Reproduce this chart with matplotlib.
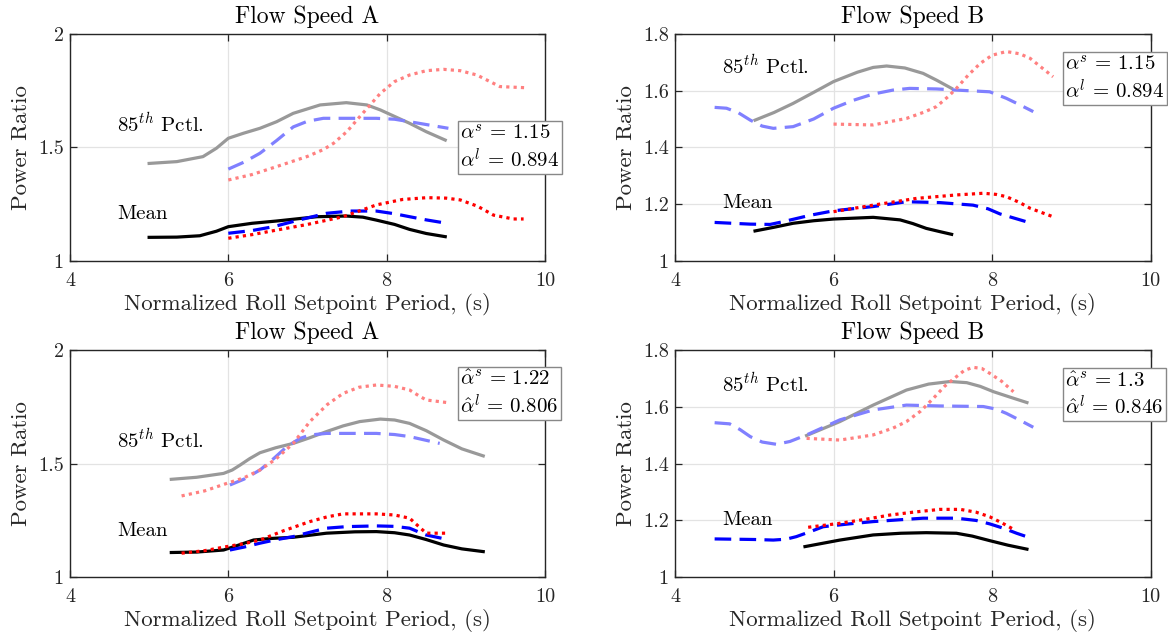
import matplotlib
matplotlib.use("Agg")
import matplotlib.pyplot as plt

plt.rcParams["font.family"] = "serif"
plt.rcParams["font.serif"] = ["cmr10"]
plt.rcParams["mathtext.fontset"] = "cm"
plt.rcParams["axes.formatter.use_mathtext"] = True

# ---- data ------------------------------------------------------------------
# top left: Flow Speed A (alpha)
tl_p85_base = ([5.0, 5.35, 5.68, 5.85, 6.0, 6.19, 6.4, 6.61, 6.82, 7.16, 7.49, 7.75, 7.92, 8.29, 8.5, 8.74],
               [1.429, 1.437, 1.459, 1.496, 1.54, 1.562, 1.584, 1.613, 1.650, 1.687, 1.697, 1.687, 1.665, 1.606, 1.569, 1.532])
tl_p85_dash = ([6.0, 6.2, 6.4, 6.61, 6.82, 7.0, 7.2, 7.87, 8.1, 8.29, 8.78],
               [1.404, 1.435, 1.474, 1.530, 1.59, 1.615, 1.628, 1.628, 1.624, 1.613, 1.584])
tl_p85_dot = ([6.0, 6.3, 6.61, 7.0, 7.2, 7.33, 7.5, 7.66, 7.92, 8.1, 8.29, 8.5, 8.72, 8.93, 9.14, 9.43, 9.75],
              [1.356, 1.380, 1.415, 1.46, 1.490, 1.518, 1.570, 1.635, 1.738, 1.790, 1.819, 1.838, 1.844, 1.838, 1.819, 1.768, 1.763])
tl_mean_base = ([5.0, 5.35, 5.64, 5.85, 6.0, 6.3, 6.61, 7.12, 7.49, 7.7, 7.87, 8.1, 8.29, 8.5, 8.74],
                [1.103, 1.104, 1.110, 1.13, 1.15, 1.165, 1.175, 1.194, 1.197, 1.192, 1.179, 1.160, 1.138, 1.120, 1.106])
tl_mean_dash = ([6.0, 6.3, 6.57, 6.9, 7.24, 7.54, 7.87, 8.1, 8.29, 8.5, 8.76],
                [1.121, 1.133, 1.150, 1.180, 1.209, 1.219, 1.219, 1.207, 1.194, 1.180, 1.165])
tl_mean_dot = ([6.0, 6.3, 6.61, 7.0, 7.45, 7.7, 7.87, 8.2, 8.51, 8.75, 8.93, 9.15, 9.35, 9.6, 9.73],
               [1.099, 1.115, 1.135, 1.160, 1.194, 1.225, 1.246, 1.270, 1.278, 1.276, 1.268, 1.240, 1.201, 1.184, 1.184])

# top right: Flow Speed B (alpha)
tr_p85_base = ([5.01, 5.25, 5.49, 5.75, 6.0, 6.3, 6.5, 6.67, 6.9, 7.13, 7.3, 7.49],
               [1.496, 1.523, 1.555, 1.594, 1.632, 1.665, 1.682, 1.687, 1.680, 1.661, 1.637, 1.608])
tr_p85_dash = ([4.5, 4.65, 4.8, 4.95, 5.1, 5.24, 5.49, 5.75, 6.0, 6.25, 6.5, 6.75, 6.96, 7.3, 7.55, 7.97, 8.18, 8.35, 8.52],
               [1.541, 1.538, 1.522, 1.496, 1.475, 1.467, 1.473, 1.500, 1.538, 1.566, 1.588, 1.602, 1.608, 1.606, 1.602, 1.596, 1.573, 1.550, 1.526])
tr_p85_dot = ([6.0, 6.5, 6.92, 7.15, 7.3, 7.45, 7.55, 7.7, 7.85, 8.0, 8.18, 8.35, 8.48, 8.77],
              [1.482, 1.479, 1.502, 1.525, 1.544, 1.580, 1.608, 1.655, 1.696, 1.725, 1.738, 1.730, 1.714, 1.649])
tr_mean_base = ([5.01, 5.25, 5.49, 5.75, 6.0, 6.5, 6.84, 7.0, 7.17, 7.35, 7.49],
                [1.105, 1.118, 1.132, 1.141, 1.147, 1.153, 1.144, 1.131, 1.114, 1.102, 1.093])
tr_mean_dash = ([4.5, 4.95, 5.2, 5.37, 5.7, 6.0, 6.5, 6.92, 7.34, 7.76, 7.95, 8.1, 8.5],
                [1.135, 1.129, 1.128, 1.138, 1.160, 1.176, 1.191, 1.208, 1.205, 1.196, 1.183, 1.165, 1.132])
tr_mean_dot = ([6.0, 6.5, 7.05, 7.55, 7.89, 8.05, 8.18, 8.35, 8.48, 8.77],
               [1.173, 1.196, 1.220, 1.232, 1.238, 1.234, 1.226, 1.205, 1.185, 1.155])

# bottom left: Flow Speed A (alpha hat)
bl_p85_base = ([5.28, 5.6, 5.94, 6.05, 6.15, 6.27, 6.4, 6.6, 6.82, 7.03, 7.24, 7.45, 7.66, 7.92, 8.1, 8.29, 8.5, 8.72, 8.95, 9.22],
               [1.431, 1.440, 1.457, 1.472, 1.494, 1.522, 1.548, 1.570, 1.589, 1.614, 1.641, 1.666, 1.685, 1.696, 1.692, 1.677, 1.645, 1.604, 1.565, 1.534])
bl_p85_dash = ([6.02, 6.2, 6.4, 6.55, 6.74, 6.9, 7.03, 7.24, 7.87, 8.1, 8.29, 8.67],
               [1.406, 1.432, 1.472, 1.515, 1.575, 1.610, 1.626, 1.633, 1.633, 1.628, 1.619, 1.589])
bl_p85_dot = ([5.41, 5.7, 5.98, 6.2, 6.4, 6.6, 6.82, 7.03, 7.25, 7.45, 7.65, 7.87, 8.1, 8.29, 8.4, 8.5, 8.78],
              [1.358, 1.380, 1.413, 1.438, 1.472, 1.520, 1.589, 1.685, 1.760, 1.809, 1.836, 1.846, 1.840, 1.824, 1.800, 1.780, 1.768])
bl_mean_base = ([5.28, 5.6, 5.94, 6.1, 6.32, 6.55, 6.82, 7.24, 7.6, 7.87, 8.1, 8.29, 8.5, 8.72, 8.95, 9.22],
                [1.109, 1.111, 1.120, 1.138, 1.164, 1.171, 1.176, 1.194, 1.200, 1.201, 1.196, 1.186, 1.166, 1.142, 1.125, 1.113])
bl_mean_dash = ([6.02, 6.2, 6.4, 6.6, 6.82, 7.03, 7.24, 7.5, 7.87, 8.1, 8.29, 8.4, 8.5, 8.76],
                [1.120, 1.133, 1.150, 1.165, 1.179, 1.198, 1.216, 1.223, 1.226, 1.224, 1.216, 1.200, 1.186, 1.167])
bl_mean_dot = ([5.41, 5.7, 5.98, 6.2, 6.4, 6.7, 7.03, 7.25, 7.45, 7.87, 8.1, 8.29, 8.4, 8.5, 8.78],
               [1.106, 1.117, 1.135, 1.148, 1.164, 1.205, 1.245, 1.266, 1.279, 1.279, 1.274, 1.260, 1.225, 1.194, 1.194])

# bottom right: Flow Speed B (alpha hat)
br_p85_base = ([5.66, 6.08, 6.5, 6.92, 7.2, 7.47, 7.68, 7.85, 8.02, 8.25, 8.44],
               [1.499, 1.548, 1.606, 1.659, 1.680, 1.689, 1.685, 1.672, 1.653, 1.632, 1.615])
br_p85_dash = ([4.5, 4.69, 4.82, 4.95, 5.1, 5.28, 5.45, 5.66, 5.85, 6.08, 6.5, 6.92, 7.34, 7.89, 8.05, 8.18, 8.35, 8.52],
               [1.544, 1.540, 1.520, 1.495, 1.476, 1.468, 1.478, 1.501, 1.525, 1.554, 1.589, 1.606, 1.603, 1.601, 1.592, 1.577, 1.553, 1.528])
br_p85_dot = ([5.66, 6.08, 6.5, 6.75, 6.92, 7.1, 7.26, 7.4, 7.55, 7.65, 7.76, 7.87, 7.97, 8.12, 8.27],
              [1.489, 1.483, 1.501, 1.525, 1.548, 1.585, 1.630, 1.672, 1.706, 1.728, 1.739, 1.735, 1.718, 1.690, 1.653])
br_mean_base = ([5.64, 6.08, 6.5, 6.85, 7.17, 7.55, 7.75, 7.97, 8.2, 8.44],
                [1.108, 1.131, 1.149, 1.155, 1.157, 1.155, 1.145, 1.129, 1.113, 1.099])
br_mean_dash = ([4.5, 5.0, 5.24, 5.4, 5.53, 5.7, 5.87, 6.2, 6.5, 7.13, 7.55, 7.8, 7.97, 8.15, 8.31, 8.5],
                [1.135, 1.133, 1.131, 1.134, 1.143, 1.160, 1.178, 1.188, 1.196, 1.208, 1.208, 1.200, 1.188, 1.172, 1.155, 1.137])
br_mean_dot = ([5.68, 6.08, 6.4, 6.71, 7.0, 7.34, 7.6, 7.8, 7.97, 8.12, 8.27],
               [1.176, 1.190, 1.204, 1.219, 1.229, 1.239, 1.239, 1.229, 1.213, 1.192, 1.169])

titles = ["Flow Speed A", "Flow Speed B", "Flow Speed A", "Flow Speed B"]
box_texts = [r"$\alpha^s\,=\,1.15$" + "\n" + r"$\alpha^l\,=\,0.894$",
             r"$\alpha^s\,=\,1.15$" + "\n" + r"$\alpha^l\,=\,0.894$",
             r"$\hat{\alpha}^s\,=\,1.22$" + "\n" + r"$\hat{\alpha}^l\,=\,0.806$",
             r"$\hat{\alpha}^s\,=\,1.3$" + "\n" + r"$\hat{\alpha}^l\,=\,0.846$"]
y_limits = [(1, 2), (1, 1.8), (1, 2), (1, 1.8)]
y_ticks = [[1, 1.5, 2], [1, 1.2, 1.4, 1.6, 1.8], [1, 1.5, 2], [1, 1.2, 1.4, 1.6, 1.8]]
x_ticks = [4, 6, 8, 10]

panels = [
    (tl_p85_base, tl_p85_dash, tl_p85_dot, tl_mean_base, tl_mean_dash, tl_mean_dot),
    (tr_p85_base, tr_p85_dash, tr_p85_dot, tr_mean_base, tr_mean_dash, tr_mean_dot),
    (bl_p85_base, bl_p85_dash, bl_p85_dot, bl_mean_base, bl_mean_dash, bl_mean_dot),
    (br_p85_base, br_p85_dash, br_p85_dot, br_mean_base, br_mean_dash, br_mean_dot),
]

# layout (figure fractions) and label spots (axes fractions)
AX_POS = [[0.0599, 0.5933, 0.4067, 0.3537], [0.5779, 0.5933, 0.4072, 0.3537],
          [0.0599, 0.0994, 0.4067, 0.3546], [0.5779, 0.0994, 0.4072, 0.3546]]
BOX_XY = [(0.822, 0.605), (0.821, 0.908), (0.822, 0.913), (0.821, 0.908)]
P85_Y = [0.607, 0.863, 0.608, 0.855]
MEAN_Y = [0.206, 0.255, 0.204, 0.251]

LW = 2.3
DASH = (5.2, 2.6)
DOT = (1.0, 1.3)
STYLES = [
    dict(color="#999999", ls="-"),
    dict(color="#8080ff", dashes=DASH),
    dict(color="#ff8080", dashes=DOT),
    dict(color="black", ls="-"),
    dict(color="#0000ff", dashes=DASH),
    dict(color="#ff0000", dashes=DOT),
]
EDGE = "#262626"

fig = plt.figure(figsize=(11.68, 6.41), dpi=100)
for i, series in enumerate(panels):
    ax = fig.add_axes(AX_POS[i])
    for (x, y), st in zip(series, STYLES):
        ax.plot(x, y, lw=LW, **st)
    ax.set_xlim(4, 10)
    ax.set_ylim(*y_limits[i])
    ax.set_xticks(x_ticks)
    ax.set_yticks(y_ticks[i])
    ax.set_xticklabels([f"{v:g}" for v in x_ticks])
    ax.set_yticklabels([f"{v:g}" for v in y_ticks[i]])
    ax.grid(True, color="#e3e3e3", lw=0.9)
    ax.set_axisbelow(True)
    ax.tick_params(direction="in", top=True, right=True, length=5, width=0.9,
                   colors=EDGE, labelsize=14.5)
    ax.tick_params(axis="x", pad=8)
    ax.tick_params(axis="y", pad=4.5)
    for s in ax.spines.values():
        s.set_color(EDGE)
        s.set_linewidth(1.0)
    ax.set_title(titles[i], fontsize=17, pad=8)
    ax.set_xlabel("Normalized Roll Setpoint Period, (s)", fontsize=16.5, color=EDGE, labelpad=2)
    ax.set_ylabel("Power Ratio", fontsize=16.5, color=EDGE, labelpad=5)
    ax.text(0.099, P85_Y[i], r"85$^{th}$ Pctl.", transform=ax.transAxes,
            fontsize=15, va="center", ha="left")
    ax.text(0.099, MEAN_Y[i], "Mean", transform=ax.transAxes,
            fontsize=15, va="center", ha="left")
    ax.text(BOX_XY[i][0], BOX_XY[i][1], box_texts[i], transform=ax.transAxes,
            fontsize=15, va="top", ha="left", linespacing=1.2, clip_on=False,
            bbox=dict(boxstyle="square,pad=0.12", fc="white", ec="#888888", lw=1.0))

fig.savefig("out.png", dpi=100, facecolor="white")
